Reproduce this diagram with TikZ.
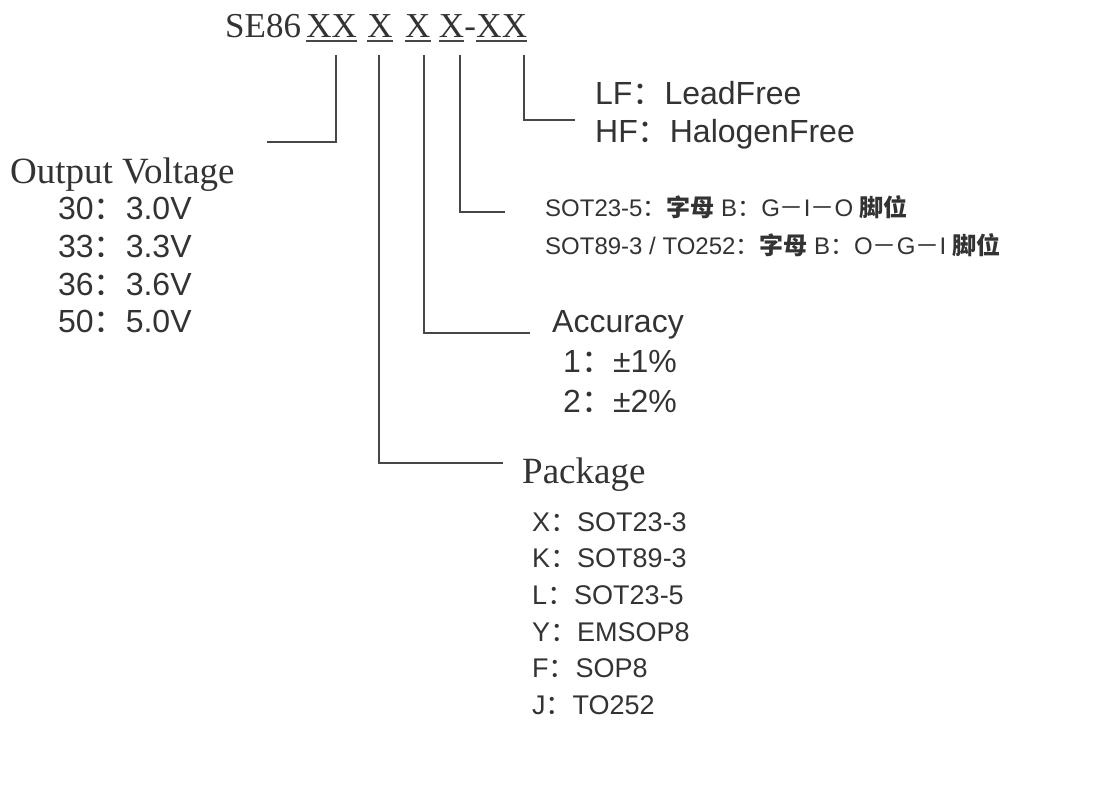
\documentclass[tikz,border=0pt]{standalone}
\usepackage{fontspec}
\setmainfont{Liberation Serif}
\setsansfont{Liberation Sans}
\newfontfamily\cjk{Noto Sans CJK SC}
\usetikzlibrary{positioning}
\newcommand{\fcolon}{{\cjk ：}}
\newcommand{\fdash}{{\cjk －}}
\definecolor{inkgray}{HTML}{333333}
\definecolor{linegray}{HTML}{474747}
\tikzset{
  partno/.style={inner sep=0pt, font=\fontsize{35}{40}\selectfont\rmfamily, text=inkgray},
  headlbl/.style={anchor=base west, inner sep=0pt, font=\fontsize{37}{40}\selectfont\rmfamily, text=inkgray},
  optlbl/.style={anchor=base west, inner sep=0pt, font=\fontsize{32}{36}\selectfont\sffamily, text=inkgray},
  pkglbl/.style={anchor=base west, inner sep=0pt, font=\fontsize{27}{30}\selectfont\sffamily, text=inkgray},
  pinlbl/.style={anchor=base west, inner sep=0pt, font=\fontsize{24}{26}\selectfont\sffamily, text=inkgray},
  uline/.style={draw=linegray, line width=2.2pt},
  conn/.style={draw=linegray, line width=2.4pt},
}
\begin{document}
\begin{tikzpicture}[x=1pt,y=-1pt]
\useasboundingbox (0,0) rectangle (1101,791);
% part number
\node[partno, anchor=base west] (se) at (225,38) {SE86};
\node[partno, base right=5pt of se] (xa) {XX};
\node[partno, base right=10pt of xa] (xb) {X};
\node[partno, base right=12pt of xb] (xc) {X};
\node[partno, base right=8pt of xc] (xd) {X};
\node[partno, base right=0pt of xd] (hy) {-};
\node[partno, base right=0pt of hy] (xe) {XX};
\foreach \p in {xa,xb,xc,xd,xe}
  \draw[uline] ([yshift=-3pt]\p.base west) -- ([yshift=-3pt]\p.base east);
% output voltage
\node[headlbl] (ov) at (10,184) {Output Voltage};
\node[optlbl] (v30) at (58,220) {30\fcolon 3.0V};
\node[optlbl] (v33) at (58,258) {33\fcolon 3.3V};
\node[optlbl] (v36) at (58,296) {36\fcolon 3.6V};
\node[optlbl] (v50) at (58,333) {50\fcolon 5.0V};
% lead / halogen free
\node[optlbl] (lf) at (595,105) {LF\fcolon LeadFree};
\node[optlbl] (hf) at (595,143) {HF\fcolon HalogenFree};
% pin order
\node[pinlbl] (pin1) at (545,217) {SOT23-5\fcolon {\cjk\bfseries 字母} B\fcolon G\fdash I\fdash O {\cjk\bfseries 脚位}};
\node[pinlbl] (pin2) at (545,255) {SOT89-3 / TO252\fcolon {\cjk\bfseries 字母} B\fcolon O\fdash G\fdash I {\cjk\bfseries 脚位}};
% accuracy
\node[optlbl] (acc) at (552,333) {Accuracy};
\node[optlbl] (acc1) at (563,373) {1\fcolon ±1\%};
\node[optlbl] (acc2) at (563,413) {2\fcolon ±2\%};
% package
\node[headlbl] (pkg) at (522,483) {Package};
\node[pkglbl] (pX) at (532,531) {X\fcolon SOT23-3};
\node[pkglbl] (pK) at (532,567) {K\fcolon SOT89-3};
\node[pkglbl] (pL) at (532,604) {L\fcolon SOT23-5};
\node[pkglbl] (pY) at (532,641) {Y\fcolon EMSOP8};
\node[pkglbl] (pF) at (532,677) {F\fcolon SOP8};
\node[pkglbl] (pJ) at (532,714) {J\fcolon TO252};
% connectors
\coordinate (ovEnd) at (267,142);
\coordinate (pkgEnd) at (503,463);
\coordinate (accEnd) at (530,333);
\coordinate (pinEnd) at (505,212);
\coordinate (lfEnd) at (575,120);
\draw[conn] ([xshift=4pt,yshift=-17pt]xa.base) |- (ovEnd);
\draw[conn] ([xshift=-1pt,yshift=-17pt]xb.base) |- (pkgEnd);
\draw[conn] ([xshift=6pt,yshift=-17pt]xc.base) |- (accEnd);
\draw[conn] ([xshift=8.5pt,yshift=-17pt]xd.base) |- (pinEnd);
\draw[conn] ([xshift=22pt,yshift=-17pt]xe.base) |- (lfEnd);
\end{tikzpicture}
\end{document}
